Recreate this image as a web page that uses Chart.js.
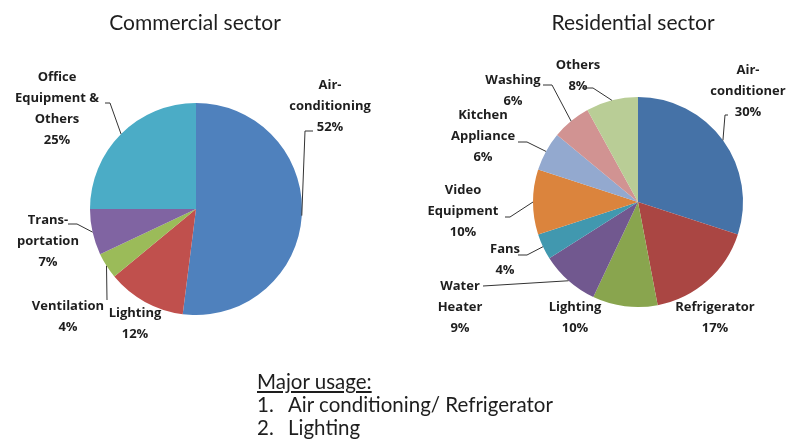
<!DOCTYPE html>
<html>
<head>
<meta charset="utf-8">
<script src="https://cdn.jsdelivr.net/npm/chart.js@4/dist/chart.umd.min.js"></script>
<style>
  body { margin: 0; background: #fff; }
  #wrap { position: relative; width: 792px; height: 443px; font-family: Lato, sans-serif; }
  #wrap canvas { position: absolute; left: 0; top: 0; }
  #notes { position: absolute; left: 257px; top: 370px; font-size: 20.5px; line-height: 23px; color: #1e1e1e; }
  #notes .num { display: inline-block; width: 31px; }
</style>
</head>
<body>
<div id="wrap">
  <canvas id="commercial" width="792" height="443"></canvas>
  <canvas id="residential" width="792" height="443"></canvas>
  <div id="notes">
    <div style="text-decoration: underline;">Major usage:</div>
    <div><span class="num">1.</span>Air conditioning/ Refrigerator</div>
    <div><span class="num">2.</span>Lighting</div>
  </div>
</div>
<script>
// commercial sector
const commercialLabels = [['Air-', 'conditioning'], ['Lighting'], ['Ventilation'], ['Trans-', 'portation'], ['Office', 'Equipment &', 'Others']];
const commercialValues = [52, 12, 4, 7, 25];
const commercialColors = ['#4F81BD', '#C0504D', '#9BBB59', '#8064A2', '#4BACC6'];

// residential sector
const residentialLabels = [['Air-', 'conditioner'], ['Refrigerator'], ['Lighting'], ['Water', 'Heater'], ['Fans'],
  ['Video', 'Equipment'], ['Kitchen', 'Appliance'], ['Washing'], ['Others']];
const residentialValues = [30, 17, 10, 9, 4, 10, 6, 6, 8];
const residentialColors = ['#4572A7', '#AA4643', '#89A54E', '#71588F', '#4198AF', '#DB843D', '#93A9CF', '#D19392', '#B9CD96'];

// label placement, offsets from the pie centre: text pos, leader start, optional elbow
const commercialLayout = [
  { tx: 134, ty: -124, start: [117, -78], elbow: [109, -78] },
  { tx: -61, ty: 104 },
  { tx: -128, ty: 97, start: [-89, 91] },
  { tx: -148, ty: 11, start: [-128, 15], elbow: [-119, 15] },
  { tx: -139, ty: -132, start: [-91, -106], elbow: [-86, -106] }
];
const residentialLayout = [
  { tx: 110, ty: -132, start: [90, -87], elbow: [87, -87] },
  { tx: 77, ty: 105 },
  { tx: -63, ty: 105 },
  { tx: -178, ty: 84, start: [-155, 84] },
  { tx: -133, ty: 47, start: [-120, 53], elbow: [-111, 53] },
  { tx: -175, ty: -12, start: [-133, 15], elbow: [-128, 15] },
  { tx: -155, ty: -87, start: [-120, -60], elbow: [-111, -60] },
  { tx: -125, ty: -122, start: [-95, -117], elbow: [-86, -117] },
  { tx: -60, ty: -137, start: [-56, -114], elbow: [-45, -114] }
];

const calloutPlugin = {
  id: 'callouts',
  afterDraw(chart, args, opts) {
    const ctx = chart.ctx;
    const meta = chart.getDatasetMeta(0);
    const values = chart.data.datasets[0].data;
    const first = meta.data[0];
    const cx = first.x, cy = first.y;

    ctx.save();
    // title
    ctx.fillStyle = '#1e1e1e';
    ctx.font = '21px Lato, sans-serif';
    ctx.textAlign = 'center';
    ctx.textBaseline = 'middle';
    ctx.fillText(opts.title, cx + opts.titleOffset[0], cy + opts.titleOffset[1]);

    ctx.font = 'bold 13px "Open Sans", sans-serif';
    ctx.strokeStyle = '#333';
    ctx.lineWidth = 1;
    meta.data.forEach((arc, i) => {
      const lay = opts.layout[i];
      const lines = chart.data.labels[i].concat([values[i] + '%']);
      lines.forEach((line, j) => {
        ctx.fillText(line, cx + lay.tx, cy + lay.ty + j * 21);
      });
      if (lay.start) {
        const p = arc.getProps(['startAngle', 'endAngle', 'outerRadius']);
        const mid = (p.startAngle + p.endAngle) / 2;
        ctx.beginPath();
        ctx.moveTo(cx + lay.start[0], cy + lay.start[1]);
        if (lay.elbow) ctx.lineTo(cx + lay.elbow[0], cy + lay.elbow[1]);
        ctx.lineTo(cx + Math.cos(mid) * p.outerRadius, cy + Math.sin(mid) * p.outerRadius);
        ctx.stroke();
      }
    });
    ctx.restore();
  }
};

function makePie(id, labels, values, colors, padding, title, titleOffset, layout) {
  new Chart(document.getElementById(id), {
    type: 'pie',
    data: {
      labels: labels,
      datasets: [{ data: values, backgroundColor: colors, borderWidth: 0 }]
    },
    options: {
      responsive: false,
      animation: false,
      layout: { padding: padding },
      events: [],
      plugins: {
        legend: { display: false },
        tooltip: { enabled: false },
        callouts: { title: title, titleOffset: titleOffset, layout: layout }
      }
    },
    plugins: [calloutPlugin]
  });
}

makePie('commercial', commercialLabels, commercialValues, commercialColors,
  { left: 90, right: 490, top: 103, bottom: 128 }, 'Commercial sector', [-1, -186], commercialLayout);
makePie('residential', residentialLabels, residentialValues, residentialColors,
  { left: 533, right: 49, top: 97, bottom: 136 }, 'Residential sector', [-5, -179], residentialLayout);
</script>
</body>
</html>
